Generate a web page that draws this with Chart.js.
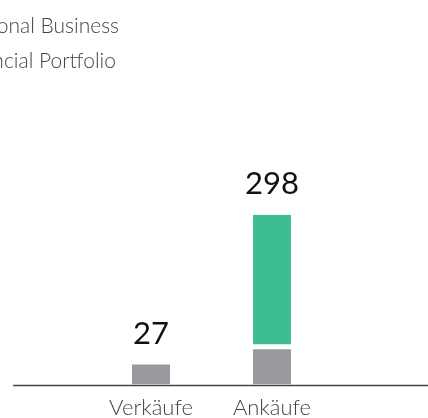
<!DOCTYPE html>
<html><head><meta charset="utf-8">
<script src="https://cdn.jsdelivr.net/npm/chart.js@4"></script>
<style>
html,body{margin:0;padding:0;background:#fff;overflow:hidden}
#wrap{position:relative;width:428px;height:418px;overflow:hidden;background:#fff}
canvas{position:absolute;left:0;top:0}
#legend{position:absolute;top:8px;right:309px;font-family:Lato,sans-serif;font-weight:300;font-size:21px;color:#444;white-space:nowrap;text-align:right;line-height:34.5px;z-index:2}
#legend .mk{display:inline-block;width:14px;height:14px;margin-right:10px;vertical-align:-1px}
</style></head>
<body><div id="wrap"><div id="legend"></div><canvas id="c" width="428" height="418"></canvas></div>
<script>
const categories = ['Verkäufe', 'Ankäufe'];
const seriesNames = ['Operational Business', 'Financial Portfolio'];
const operationalBusiness = [27, 55];
const financialPortfolio = [null, 243];
const seriesColors = ['#98999d', '#3ebd95'];

const totals = categories.map((c, i) => (operationalBusiness[i] || 0) + (financialPortfolio[i] || 0));
const yMin = -9;
const yMax = 600;

// HTML legend (left part lies outside the visible frame, as in the reference)
const legendEl = document.getElementById('legend');
seriesNames.forEach((name, i) => {
  const d = document.createElement('div');
  if (i === 1) d.style.marginRight = '3px';
  const mk = document.createElement('span');
  mk.className = 'mk';
  mk.style.background = seriesColors[i];
  d.appendChild(mk);
  d.appendChild(document.createTextNode(name));
  legendEl.appendChild(d);
});

const baseLine = {
  id: 'baseLine',
  beforeDatasetsDraw(chart) {
    const ctx = chart.ctx;
    const y = Math.round(chart.chartArea.bottom) + 0.5;
    ctx.save();
    ctx.strokeStyle = '#444';
    ctx.lineWidth = 1.3;
    ctx.beginPath();
    ctx.moveTo(13, y);
    ctx.lineTo(chart.width, y);
    ctx.stroke();
    ctx.restore();
  }
};

const totalLabels = {
  id: 'totalLabels',
  afterDatasetsDraw(chart) {
    const ctx = chart.ctx;
    const xs = chart.scales.x, ys = chart.scales.y;
    ctx.save();
    ctx.font = '400 31px Lato, sans-serif';
    ctx.fillStyle = '#111';
    ctx.textAlign = 'center';
    ctx.textBaseline = 'alphabetic';
    totals.forEach((t, i) => {
      ctx.fillText(String(t), xs.getPixelForValue(i), ys.getPixelForValue(t) - 21);
    });
    ctx.restore();
  }
};

new Chart(document.getElementById('c'), {
  type: 'bar',
  data: {
    labels: categories,
    datasets: [
      {
        label: seriesNames[0],
        data: operationalBusiness,
        backgroundColor: seriesColors[0],
        base: yMin,
        borderWidth: 0
      },
      {
        label: seriesNames[1],
        data: financialPortfolio,
        backgroundColor: seriesColors[1],
        borderColor: '#ffffff',
        borderWidth: {top: 0, left: 0, right: 0, bottom: 5},
        borderSkipped: false
      }
    ]
  },
  options: {
    responsive: false,
    animation: false,
    events: [],
    layout: {padding: {left: 90.5, right: 95.5, top: 48, bottom: 0}},
    datasets: {bar: {barPercentage: 0.314, categoryPercentage: 1}},
    plugins: {legend: {display: false}, tooltip: {enabled: false}},
    scales: {
      x: {
        stacked: true,
        grid: {display: false, drawTicks: false},
        border: {display: false},
        afterFit(scale) { scale.height = 33.5; },
        ticks: {
          color: '#444',
          padding: 10,
          font: {family: 'Lato, sans-serif', size: 22, weight: 300}
        }
      },
      y: {
        stacked: true,
        display: false,
        min: yMin,
        max: yMax
      }
    }
  },
  plugins: [baseLine, totalLabels]
});
</script>
</body></html>
